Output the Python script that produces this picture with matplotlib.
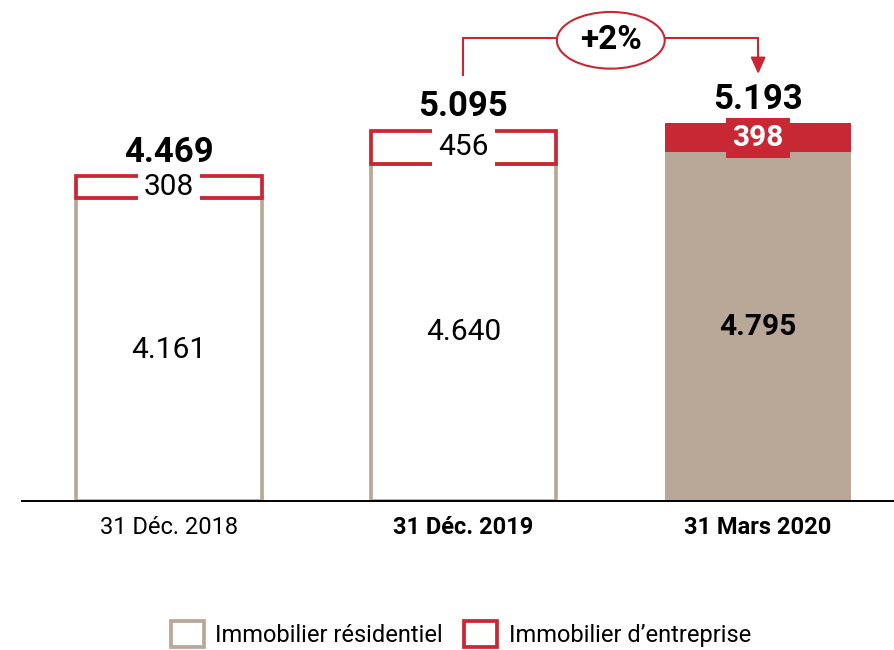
import matplotlib
matplotlib.use("Agg")
import matplotlib.pyplot as plt
from matplotlib.patches import Patch, Ellipse

plt.rcParams["font.family"] = ["Roboto", "DejaVu Sans"]

# data (millions)
dates = ["31 Déc. 2018", "31 Déc. 2019", "31 Mars 2020"]
residential = [4161, 4640, 4795]
commercial = [308, 456, 398]
totals = [4469, 5095, 5193]
growth = "+2%"
series_names = ["Immobilier résidentiel", "Immobilier d\u2019entreprise"]

TAN = "#B9A898"
RED = "#C82834"

fig = plt.figure(figsize=(8.94, 6.5), dpi=100)
ax = fig.add_axes([22 / 894, 149 / 650, 872 / 894, 501 / 650])

x = list(range(len(dates)))
w = 0.63
filled = [False, False, True]

for i in x:
    if filled[i]:
        ax.bar(i, residential[i], w, color=TAN, lw=0, zorder=2)
        ax.bar(i, commercial[i], w, bottom=residential[i], color=RED, lw=0, zorder=3)
    else:
        ax.bar(i, residential[i], w, facecolor="white", edgecolor=TAN, lw=2.7, zorder=2)
        ax.bar(i, commercial[i], w, bottom=residential[i], facecolor="none",
               edgecolor=RED, lw=2.7, zorder=3)

    # residential value
    ax.text(i, residential[i] / 2, f"{residential[i] / 1000:.3f}", ha="center", va="center",
            fontsize=21.5, color="black",
            fontweight="bold" if filled[i] else "normal", zorder=5)
    # commercial value, with a box that breaks the outline
    ymid = residential[i] + commercial[i] / 2
    if filled[i]:
        ax.text(i, ymid, f"{commercial[i]}", ha="center", va="center", fontsize=21.5,
                color="white", fontweight="bold", zorder=5,
                bbox=dict(boxstyle="square,pad=0.2", fc=RED, ec="none"))
    else:
        ax.text(i, ymid, f"{commercial[i]}", ha="center", va="center", fontsize=21.5,
                color="black", zorder=5,
                bbox=dict(boxstyle="square,pad=0.2", fc="white", ec="none"))
    # total
    ax.annotate(f"{totals[i] / 1000:.3f}", (i, totals[i]), xytext=(0, 17),
                textcoords="offset points", ha="center", va="center",
                fontsize=25, fontweight="bold", zorder=6)

# growth bracket between the last two bars
yb = max(totals) * 1.226
ax.plot([1, 1, 2, 2], [totals[1] + 770, yb, yb, totals[2] + 950], color=RED, lw=1.5,
        zorder=4, solid_joinstyle="miter")
ax.annotate("", xy=(2, totals[2] + 680), xytext=(2, totals[2] + 960),
            arrowprops=dict(arrowstyle="-|>,head_width=0.45,head_length=1.0",
                            color=RED, lw=1.5, shrinkA=0, shrinkB=0), zorder=4)
ax.add_patch(Ellipse((1.5, yb - 30), 0.366, 780, fc="white", ec=RED, lw=1.5, zorder=5))
ax.text(1.5, yb - 30, growth, ha="center", va="center", fontsize=24,
        fontweight="bold", zorder=6)

ax.set_xlim(-0.498, 2.461)
ax.set_ylim(0, 6891)
for s in ["top", "right", "left"]:
    ax.spines[s].set_visible(False)
ax.spines["bottom"].set_linewidth(1.4)
ax.spines["bottom"].set_zorder(6)
ax.set_yticks([])
ax.set_xticks(x)
ax.set_xticklabels(dates, fontsize=17)
ax.tick_params(axis="x", length=0, pad=11)
ax.get_xticklabels()[1].set_fontweight("bold")
ax.get_xticklabels()[2].set_fontweight("bold")

handles = [Patch(facecolor="white", edgecolor=TAN, lw=2.7, label=series_names[0]),
           Patch(facecolor="white", edgecolor=RED, lw=2.7, label=series_names[1])]
fig.legend(handles=handles, loc="center", bbox_to_anchor=(461 / 894, 16 / 650),
           ncol=2, frameon=False, fontsize=17, handlelength=1.4, handleheight=1.3,
           handletextpad=0.5, columnspacing=0.9)

fig.savefig("out.png", dpi=100)
